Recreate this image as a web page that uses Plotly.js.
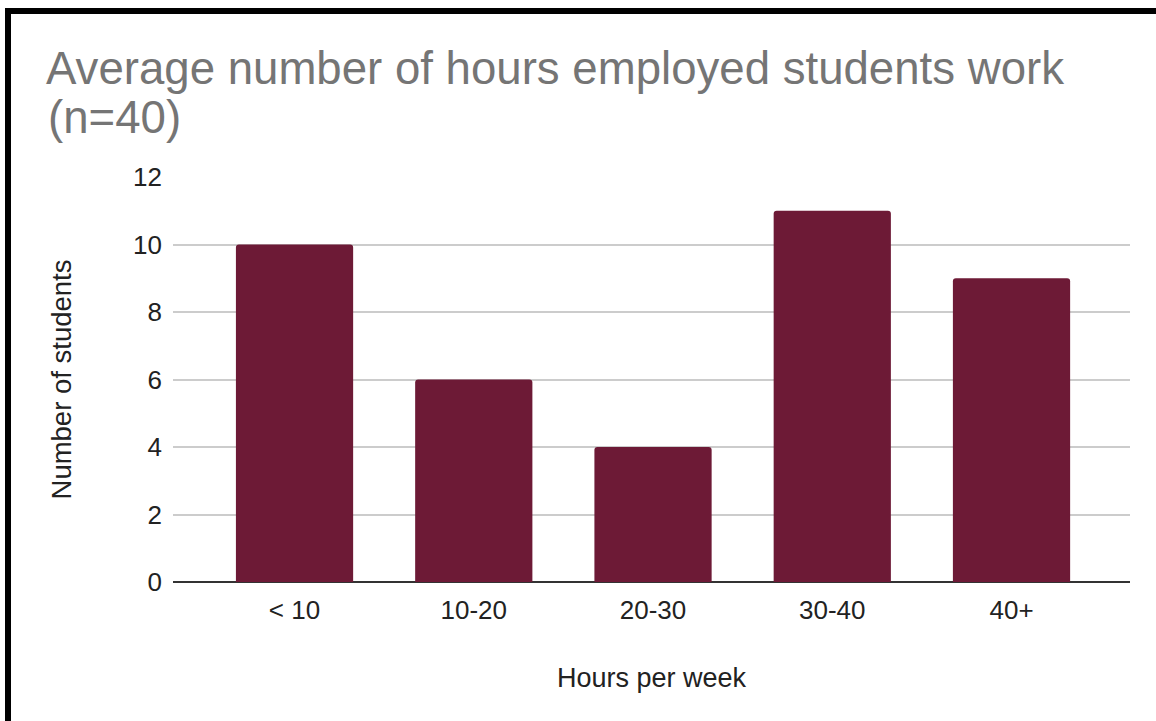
<!DOCTYPE html>
<html>
<head>
<meta charset="utf-8">
<script src="https://cdn.plot.ly/plotly-3.0.1.min.js"></script>
<style>
  html, body { margin: 0; padding: 0; background: #ffffff; overflow: hidden; }
  #chart { width: 1156px; height: 721px; position: absolute; left: 0; top: 0; }
  #frame { position: absolute; left: 5px; top: 8px; width: 1200px; height: 800px;
           border: 6px solid #000; pointer-events: none; box-sizing: border-box; }
</style>
</head>
<body>
<div id="chart"></div>
<div id="frame"></div>
<script>
const categories = ["< 10", "10-20", "20-30", "30-40", "40+"];
const students = [10, 6, 4, 11, 9];
const yTicks = [0, 2, 4, 6, 8, 10, 12];
const titleLine1 = "Average number of hours employed students work";
const titleLine2 = "(n=40)";
const xTitle = "Hours per week";
const yTitle = "Number of students";

const FONT = "Arial, 'Liberation Sans', sans-serif";

const trace = {
  type: "bar",
  x: categories,
  y: students,
  marker: { color: "#6d1a36", cornerradius: 3 },
  hoverinfo: "x+y"
};

const layout = {
  width: 1156,
  height: 721,
  paper_bgcolor: "#ffffff",
  plot_bgcolor: "#ffffff",
  margin: { l: 173, r: 26, t: 177, b: 139 },
  bargap: 0.346,
  showlegend: false,
  font: { family: FONT, color: "#222222" },
  title: {
    text: titleLine1,
    font: { family: FONT, size: 45.6, color: "#757575" },
    xref: "container", yref: "container",
    x: 46 / 1156, xanchor: "left",
    y: 1 - 84 / 721, yanchor: "bottom"
  },
  annotations: [{
    text: titleLine2,
    xref: "paper", yref: "paper",
    x: (46 - 173) / (1156 - 173 - 26), xanchor: "left",
    y: 1 + (177 - 117) / (721 - 177 - 139), yanchor: "middle",
    showarrow: false,
    font: { family: FONT, size: 45.6, color: "#757575" }
  }],
  xaxis: {
    type: "category",
    range: [-0.678, 4.661],
    showgrid: false,
    showline: false,
    zeroline: false,
    ticks: "",
    tickfont: { family: FONT, size: 26, color: "#222222" },
    ticklabelstandoff: 10,
    title: { text: xTitle, font: { family: FONT, size: 27, color: "#222222" }, standoff: 44 },
    fixedrange: true
  },
  yaxis: {
    range: [0, 12],
    tickvals: yTicks,
    showgrid: true,
    gridcolor: "#cccccc",
    gridwidth: 2,
    zeroline: true,
    zerolinecolor: "#333333",
    zerolinewidth: 2,
    showline: false,
    ticks: "",
    tickfont: { family: FONT, size: 26, color: "#222222" },
    ticklabelstandoff: 10,
    title: { text: yTitle, font: { family: FONT, size: 27.5, color: "#222222" }, standoff: 53 },
    fixedrange: true
  }
};

Plotly.newPlot("chart", [trace], layout, { displayModeBar: false, staticPlot: true });
</script>
</body>
</html>
